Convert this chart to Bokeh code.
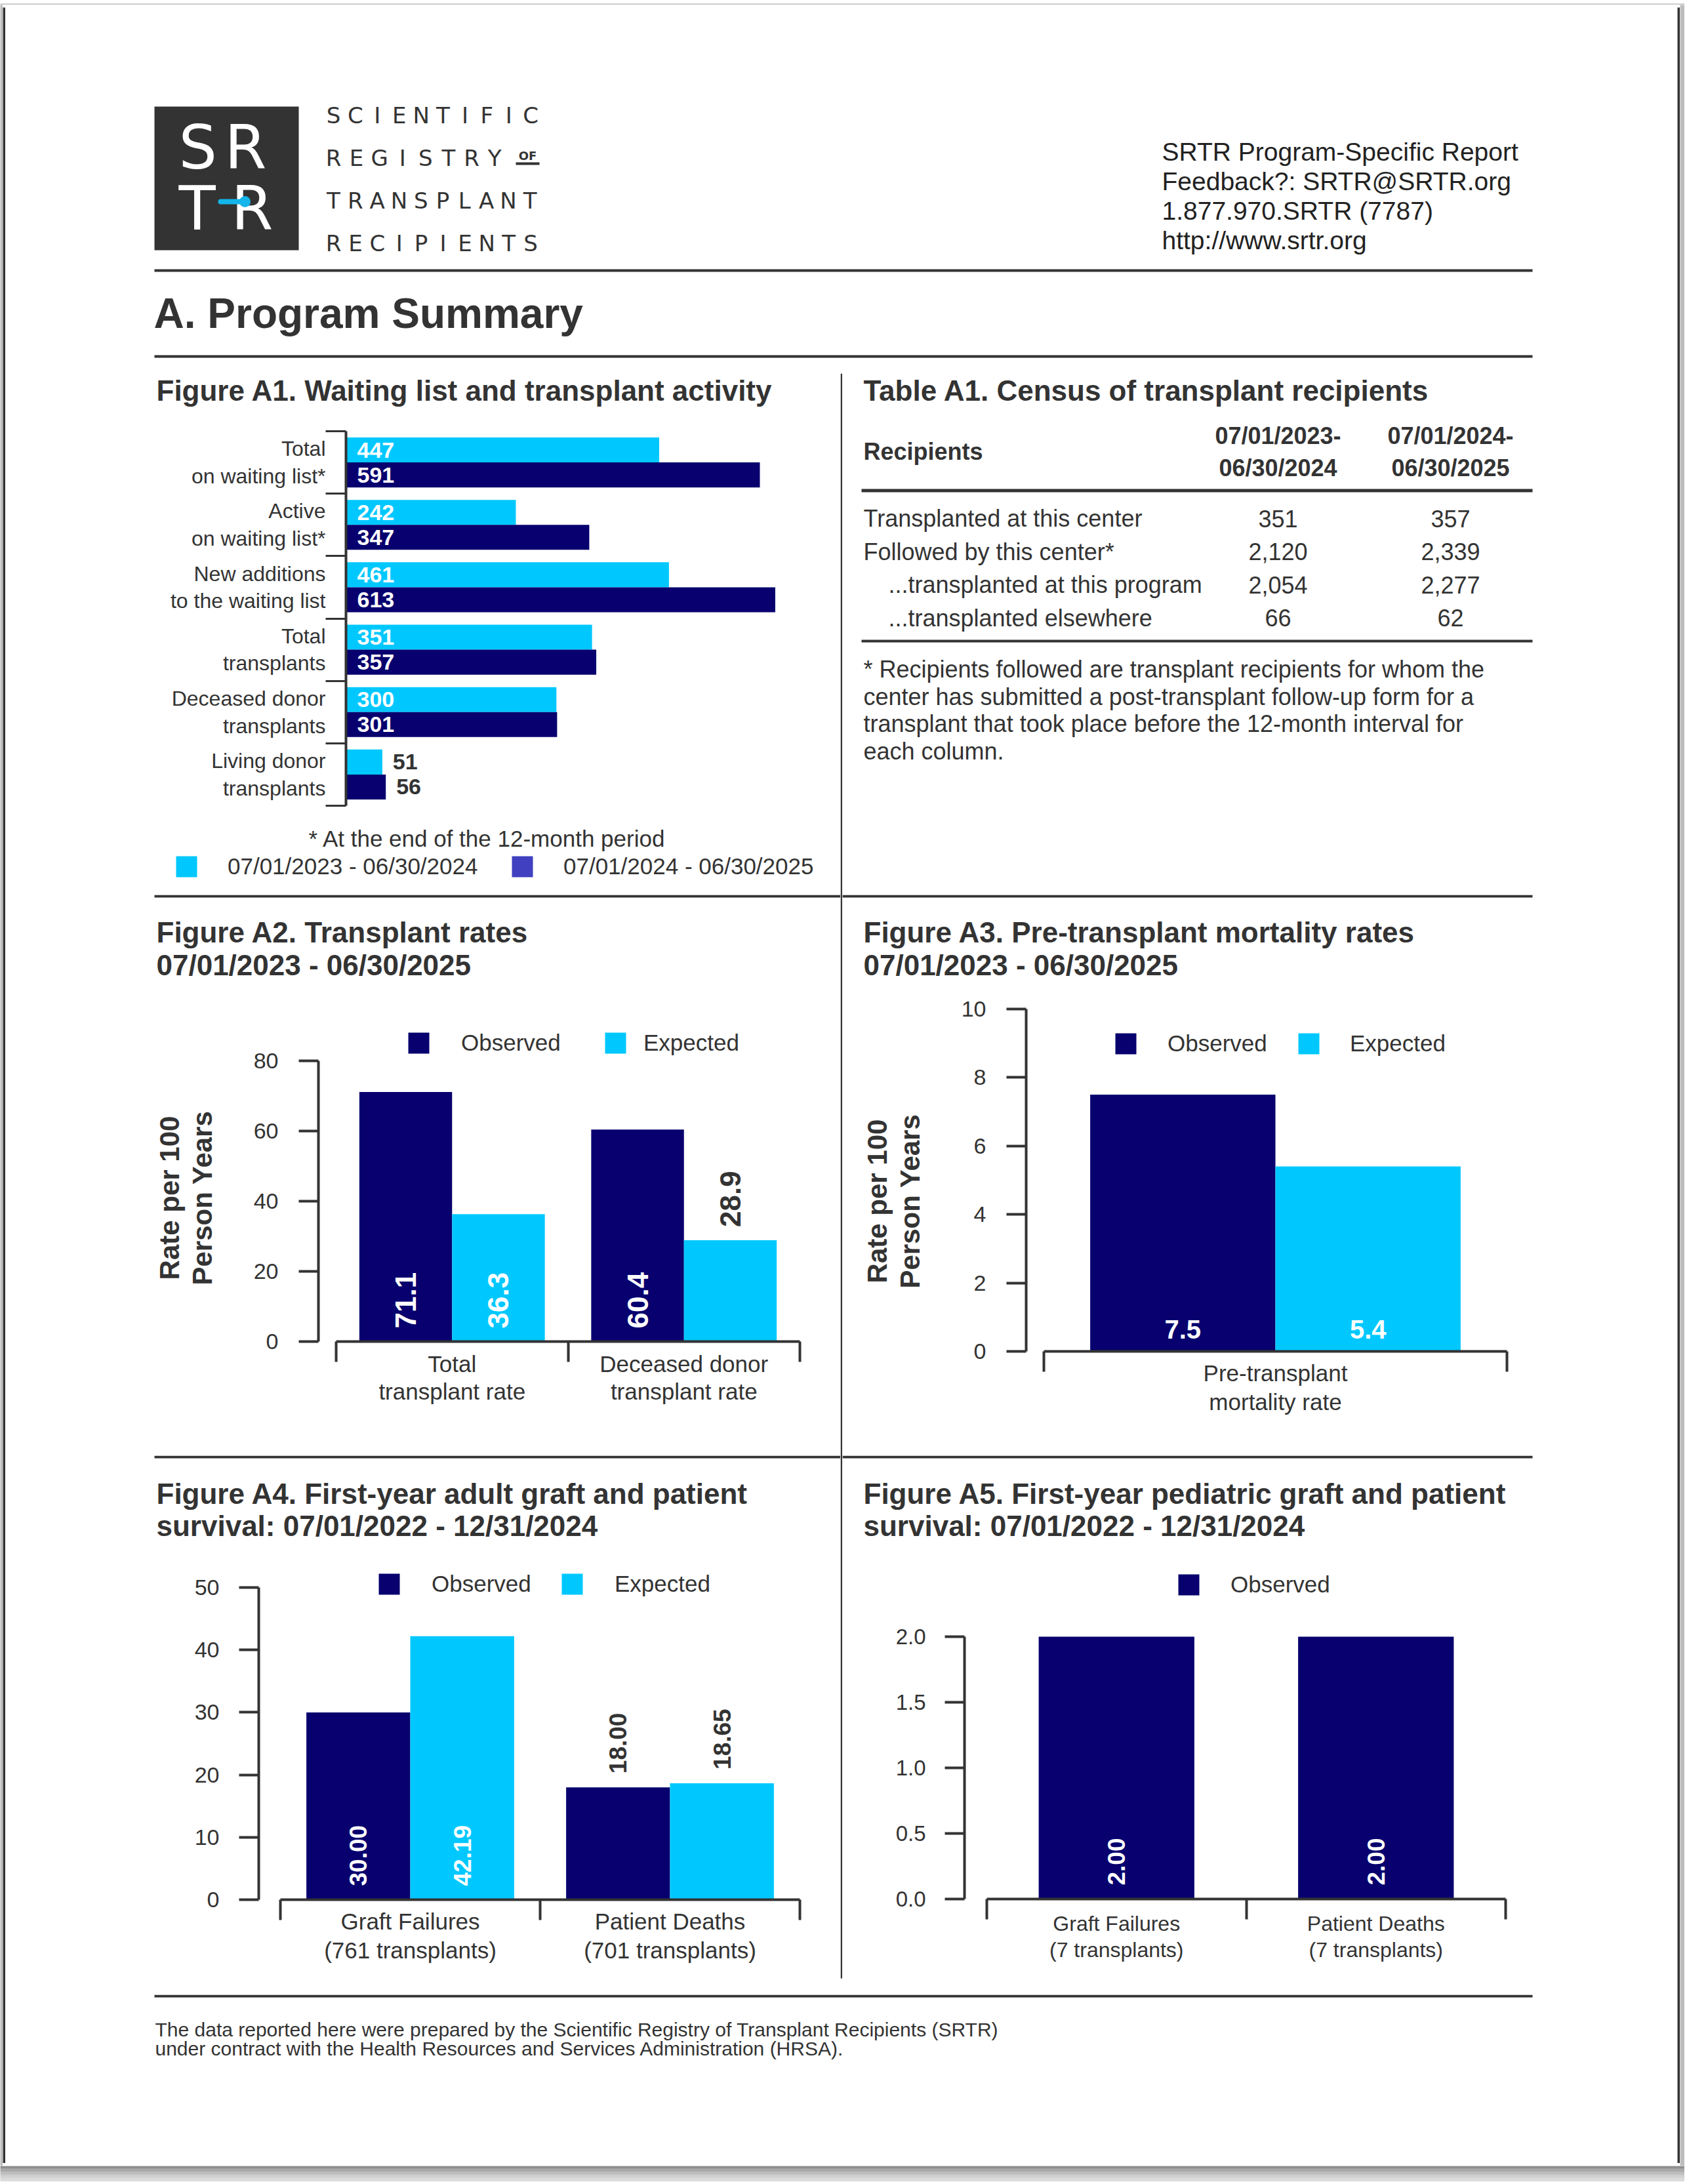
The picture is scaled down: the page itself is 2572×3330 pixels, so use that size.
import math
from bokeh.plotting import figure
from bokeh.models import (Range1d, FixedTicker, Legend, LegendItem, ColumnDataSource,
                          PrintfTickFormatter)
from bokeh.layouts import column, row
from bokeh.embed import file_html
from bokeh.resources import INLINE
from bokeh.core.properties import value

FONT = "Liberation Sans"
LOGO_FONT = "DejaVu Sans"
DARK = "#333333"
NAVY = "#07006E"
CYAN = "#00C8FF"
LEGEND_BLUE = "#4040C0"
LOGO_BLUE = "#13B5EA"
GREY = "#bdbdbd"

# ---------------- data ----------------
a1_categories = ["Total\non waiting list*", "Active\non waiting list*",
                 "New additions\nto the waiting list", "Total\ntransplants",
                 "Deceased donor\ntransplants", "Living donor\ntransplants"]
a1_period1 = [447, 242, 461, 351, 300, 51]
a1_period2 = [591, 347, 613, 357, 301, 56]
a1_periods = ["07/01/2023 - 06/30/2024", "07/01/2024 - 06/30/2025"]

table_rows = ["Transplanted at this center", "Followed by this center*",
              "...transplanted at this program", "...transplanted elsewhere"]
table_indent = [False, False, True, True]
table_col1 = ["351", "2,120", "2,054", "66"]
table_col2 = ["357", "2,339", "2,277", "62"]
table_headers = [["07/01/2023-", "06/30/2024"], ["07/01/2024-", "06/30/2025"]]
table_note = ["* Recipients followed are transplant recipients for whom the",
              "center has submitted a post-transplant follow-up form for a",
              "transplant that took place before the 12-month interval for",
              "each column."]

series_names = ["Observed", "Expected"]

a2_groups = ["Total\ntransplant rate", "Deceased donor\ntransplant rate"]
a2_observed = [71.1, 60.4]
a2_expected = [36.3, 28.9]
a2_yticks = [0, 20, 40, 60, 80]

a3_groups = ["Pre-transplant\nmortality rate"]
a3_observed = [7.5]
a3_expected = [5.4]
a3_yticks = [0, 2, 4, 6, 8, 10]

a4_groups = ["Graft Failures\n(761 transplants)", "Patient Deaths\n(701 transplants)"]
a4_observed = [30.00, 18.00]
a4_expected = [42.19, 18.65]
a4_yticks = [0, 10, 20, 30, 40, 50]

a5_groups = ["Graft Failures\n(7 transplants)", "Patient Deaths\n(7 transplants)"]
a5_observed = [2.00, 2.00]
a5_yticks = [0, 0.5, 1.0, 1.5, 2.0]

header_lines = ["SRTR Program-Specific Report", "Feedback?: SRTR@SRTR.org",
                "1.877.970.SRTR (7787)", "http://www.srtr.org"]
logo_words = ["SCIENTIFIC", "REGISTRY", "TRANSPLANT", "RECIPIENTS"]
footer_lines = ["The data reported here were prepared by the Scientific Registry of Transplant Recipients (SRTR)",
                "under contract with the Health Resources and Services Administration (HRSA)."]


# ---------------- helpers ----------------
def canvas(x0, y0, x1, y1, bg="white"):
    p = figure(width=x1 - x0, height=y1 - y0,
               x_range=Range1d(x0, x1), y_range=Range1d(y1, y0),
               output_backend="svg", toolbar_location=None, min_border=0,
               x_axis_location=None, y_axis_location=None)
    p.grid.visible = False
    p.outline_line_color = None
    p.background_fill_color = bg
    p.border_fill_color = bg
    return p


def put(p, x, y, s, size, bold=False, color=DARK, align="left",
        baseline="alphabetic", angle=0.0, font=FONT):
    if baseline == "alphabetic":
        y = y - 0.35 * size
        baseline = "middle"
    p.text(x=[x], y=[y], text=[s], angle=angle,
           text_font=value(font), text_font_size=value(f"{size}px"),
           text_font_style="bold" if bold else "normal",
           text_color=color, text_align=align, text_baseline=baseline)


def block(p, x0, x1, y0, y1, color=DARK):
    p.quad(left=[x0], right=[x1], top=[y0], bottom=[y1],
           fill_color=color, line_color=None)


def lin_range(va, pa, vb, pb, plo, phi):
    k = (pb - pa) / (vb - va)
    return Range1d(va + (plo - pa) / k, va + (phi - pa) / k)


def chart(fig_box, frame_box, xr, yr, x_axis=True):
    fx0, fy0, fx1, fy1 = fig_box
    l, t, r, b = frame_box
    p = figure(width=fx1 - fx0, height=fy1 - fy0, x_range=xr, y_range=yr,
               output_backend="svg", toolbar_location=None,
               min_border_left=l - fx0, min_border_right=fx1 - r,
               min_border_top=t - fy0, min_border_bottom=fy1 - b,
               x_axis_location="below" if x_axis else None)
    p.grid.visible = False
    p.outline_line_color = None
    p.background_fill_color = "white"
    p.border_fill_color = "white"
    return p


def style_value_axis(ax, ticks, size, standoff, fmt=None):
    ax.ticker = FixedTicker(ticks=ticks)
    ax.bounds = (min(ticks), max(ticks))
    ax.axis_line_color = DARK
    ax.axis_line_width = 4
    ax.major_tick_line_color = DARK
    ax.major_tick_line_width = 4
    ax.major_tick_in = 0
    ax.major_tick_out = 30
    ax.minor_tick_line_color = None
    ax.minor_tick_in = 0
    ax.minor_tick_out = 0
    ax.major_label_standoff = standoff
    ax.major_label_text_font = FONT
    ax.major_label_text_font_size = f"{size}px"
    ax.major_label_text_color = DARK
    if fmt:
        ax.formatter = PrintfTickFormatter(format=fmt)


BRACKET = 31


def style_group_axis(ax, labels, size, gap, lh):
    n = len(labels)
    ax.ticker = FixedTicker(ticks=[i + 1 for i in range(n)],
                            minor_ticks=[i + 0.5 for i in range(n + 1)])
    ax.bounds = (0.5, n + 0.5)
    ax.axis_line_color = DARK
    ax.axis_line_width = 4
    ax.major_tick_line_color = None
    ax.major_tick_in = 0
    ax.major_tick_out = 0
    ax.minor_tick_line_color = DARK
    ax.minor_tick_line_width = 4
    ax.minor_tick_in = 0
    ax.minor_tick_out = BRACKET
    ax.major_label_overrides = {i + 1: lab for i, lab in enumerate(labels)}
    ax.major_label_standoff = gap - BRACKET
    ax.major_label_text_font = FONT
    ax.major_label_text_font_size = f"{size}px"
    ax.major_label_text_color = DARK
    ax.major_label_text_line_height = lh


def group_bars(p, series, colors, width, offsets, fmt, size, ymax_axis, lift,
               rotated=True):
    rends = []
    for vals, col, off in zip(series, colors, offsets):
        xs = [i + 1 + off for i in range(len(vals))]
        src = ColumnDataSource(dict(x=xs, top=vals))
        r = p.vbar(x="x", top="top", bottom=0, width=width, source=src,
                   fill_color=col, line_color=None)
        rends.append(r)
        if rotated:
            inside = [v >= 0.4 * ymax_axis for v in vals]
            lab = ColumnDataSource(dict(
                x=xs, y=[0 if ins else v for ins, v in zip(inside, vals)],
                text=[fmt % v for v in vals],
                color=["white" if ins else DARK for ins in inside]))
            p.text(x="x", y="y", text="text", source=lab, angle=math.pi / 2,
                   text_align="left", text_baseline="middle", y_offset=-lift,
                   text_color="color", text_font=value(FONT),
                   text_font_size=value(f"{size}px"), text_font_style="bold")
        else:
            lab = ColumnDataSource(dict(x=xs, y=[0] * len(vals),
                                        text=[fmt % v for v in vals]))
            p.text(x="x", y="y", text="text", source=lab,
                   text_align="center", text_baseline="middle", y_offset=-lift,
                   text_color="white", text_font=value(FONT),
                   text_font_size=value(f"{size}px"), text_font_style="bold")
    return rends


def square_legend(p, renderer, label, sq_x, sq_y, text_x, frame_left, frame_bottom, size):
    leg = Legend(items=[LegendItem(label=label, renderers=[renderer])],
                 location=(sq_x - 4 - frame_left, frame_bottom - (sq_y + 36)),
                 glyph_width=40, glyph_height=40, label_height=40, label_width=10,
                 label_standoff=text_x - (sq_x - 4 + 40),
                 padding=0, margin=0, spacing=0,
                 border_line_color=None, background_fill_alpha=0,
                 label_text_font=FONT, label_text_font_size=f"{size}px",
                 label_text_color=DARK)
    p.add_layout(leg)


def box(p):
    return column(p)


# ---------------- header ----------------
header = canvas(8, 11, 2557, 569)
block(header, 235, 455, 162, 381, "#333333")
put(header, 272, 257, "S", 92, color="white", font=LOGO_FONT)
put(header, 342, 257, "R", 92, color="white", font=LOGO_FONT)
put(header, 272, 350, "T", 92, color="white", font=LOGO_FONT)
put(header, 352, 350, "R", 92, color="white", font=LOGO_FONT)
header.line(x=[336, 370], y=[307, 307], line_color=LOGO_BLUE, line_width=8, line_cap="round")
header.scatter(x=[373], y=[307], size=17, marker="circle", fill_color=LOGO_BLUE, line_color=None)
word_base = [187, 252, 317, 382]
word_pitch = [33.4, 35.1, 33.3, 33.4]
for w, yb, pitch in zip(logo_words, word_base, word_pitch):
    for i, ch in enumerate(w):
        put(header, 508 + i * pitch, yb, ch, 34, color=DARK, align="center", font=LOGO_FONT)
put(header, 804, 243, "OF", 18, bold=True, color=DARK, align="center", font=LOGO_FONT)
block(header, 786, 822, 247, 251)
for i, s in enumerate(header_lines):
    put(header, 1771, 245 + 45 * i, s, 39, color="#222222")
block(header, 235, 2336, 410, 414)
put(header, 234, 500, "A. Program Summary", 64, bold=True)
block(header, 235, 2336, 541, 545)

# ---------------- A1 ----------------
a1_title = canvas(8, 569, 1281, 640)
put(a1_title, 238, 610, "Figure A1. Waiting list and transplant activity", 44, bold=True)

a1 = chart((8, 640, 1281, 1250), (527, 657, 1281, 1228),
           lin_range(0, 528, 591, 1158, 527, 1281), Range1d(6.5, 0.5), x_axis=False)
n1 = len(a1_categories)
for vals, col, off in ((a1_period1, CYAN, -0.2), (a1_period2, NAVY, 0.2)):
    ys = [i + 1 + off for i in range(n1)]
    a1.hbar(y=ys, left=0, right=vals, height=0.4, fill_color=col, line_color=None)
    inside = [v >= 100 for v in vals]
    src = ColumnDataSource(dict(x=[0 if ins else v for ins, v in zip(inside, vals)], y=ys,
                                text=[str(v) for v in vals],
                                color=["white" if ins else DARK for ins in inside]))
    a1.text(x="x", y="y", text="text", source=src, x_offset=16, text_align="left",
            text_baseline="middle", text_color="color", text_font=value(FONT),
            text_font_size=value("34px"), text_font_style="bold")
ya = a1.yaxis[0]
ya.ticker = FixedTicker(ticks=[i + 1 for i in range(n1)],
                        minor_ticks=[i + 0.5 for i in range(n1 + 1)])
ya.axis_line_color = DARK
ya.axis_line_width = 4
ya.major_tick_line_color = None
ya.major_tick_out = 0
ya.major_tick_in = 0
ya.minor_tick_line_color = DARK
ya.minor_tick_line_width = 3
ya.minor_tick_in = 0
ya.minor_tick_out = BRACKET
ya.major_label_overrides = {i + 1: lab for i, lab in enumerate(a1_categories)}
ya.major_label_standoff = 31 - BRACKET
ya.major_label_text_font = FONT
ya.major_label_text_font_size = "32px"
ya.major_label_text_color = DARK
ya.major_label_text_line_height = 1.16

a1_leg = canvas(8, 1250, 1281, 1364)
put(a1_leg, 470, 1290, "* At the end of the 12-month period", 35)
d1 = a1_leg.quad(left=[0], right=[0], top=[0], bottom=[0], fill_color=CYAN, line_color=None)
d2 = a1_leg.quad(left=[0], right=[0], top=[0], bottom=[0], fill_color=LEGEND_BLUE, line_color=None)
square_legend(a1_leg, d1, a1_periods[0], 268, 1305, 347, 8, 1364, 35)
square_legend(a1_leg, d2, a1_periods[1], 780, 1305, 859, 8, 1364, 35)

# ---------------- Table A1 ----------------
tbl = canvas(1284, 569, 2557, 1364)
put(tbl, 1316, 610, "Table A1. Census of transplant recipients", 44, bold=True)
put(tbl, 1316, 701, "Recipients", 36, bold=True)
col_x = [1948, 2211]
for cx, hdr in zip(col_x, table_headers):
    put(tbl, cx, 677, hdr[0], 36, bold=True, align="center")
    put(tbl, cx, 726, hdr[1], 36, bold=True, align="center")
block(tbl, 1313, 2336, 745, 750)
for i, (lab, ind, v1, v2) in enumerate(zip(table_rows, table_indent, table_col1, table_col2)):
    yb = 803 + 50.5 * i
    put(tbl, 1354 if ind else 1316, yb, lab, 36)
    put(tbl, col_x[0], yb, v1, 36, align="center")
    put(tbl, col_x[1], yb, v2, 36, align="center")
block(tbl, 1313, 2336, 975, 979)
for i, s in enumerate(table_note):
    put(tbl, 1316, 1033 + 41.5 * i, s, 36)

# ---------------- A2 ----------------
a2_title = canvas(8, 1364, 1281, 1525)
block(a2_title, 235, 1281, 1364, 1368)
put(a2_title, 238, 1436, "Figure A2. Transplant rates", 44, bold=True)
put(a2_title, 238, 1486, "07/01/2023 - 06/30/2025", 44, bold=True)
a2_ylab = canvas(8, 1525, 360, 2219)
put(a2_ylab, 258, 1826, "Rate per 100", 42, bold=True, align="center", baseline="middle", angle=math.pi / 2)
put(a2_ylab, 308, 1826, "Person Years", 42, bold=True, align="center", baseline="middle", angle=math.pi / 2)
a2 = chart((360, 1525, 1281, 2219), (485, 1560, 1230, 2045),
           lin_range(0.5, 512, 2.5, 1219, 485, 1230),
           lin_range(0, 2045, 80, 1617, 2045, 1560))
r2 = group_bars(a2, [a2_observed, a2_expected], [NAVY, CYAN], 0.4, [-0.2, 0.2],
                "%.1f", 44, max(a2_yticks), 20)
style_value_axis(a2.yaxis[0], a2_yticks, 34, 31)
style_group_axis(a2.xaxis[0], a2_groups, 35, 14, 1.1)
square_legend(a2, r2[0], series_names[0], 622, 1574, 703, 485, 2045, 35)
square_legend(a2, r2[1], series_names[1], 922, 1574, 981, 485, 2045, 35)

# ---------------- A3 ----------------
a3_title = canvas(1284, 1364, 2557, 1505)
block(a3_title, 1284, 2336, 1364, 1368)
put(a3_title, 1316, 1436, "Figure A3. Pre-transplant mortality rates", 44, bold=True)
put(a3_title, 1316, 1486, "07/01/2023 - 06/30/2025", 44, bold=True)
a3_ylab = canvas(1284, 1505, 1440, 2219)
put(a3_ylab, 1337, 1831, "Rate per 100", 42, bold=True, align="center", baseline="middle", angle=math.pi / 2)
put(a3_ylab, 1387, 1831, "Person Years", 42, bold=True, align="center", baseline="middle", angle=math.pi / 2)
a3 = chart((1440, 1505, 2557, 2219), (1564, 1525, 2310, 2060),
           lin_range(0.5, 1591, 1.5, 2297, 1564, 2310),
           lin_range(0, 2060, 10, 1538, 2060, 1525))
r3 = group_bars(a3, [a3_observed, a3_expected], [NAVY, CYAN], 0.4, [-0.2, 0.2],
                "%.1f", 40, max(a3_yticks), 34, rotated=False)
style_value_axis(a3.yaxis[0], a3_yticks, 34, 31)
style_group_axis(a3.xaxis[0], a3_groups, 35, 13, 1.15)
square_legend(a3, r3[0], series_names[0], 1700, 1575, 1780, 1564, 2060, 35)
square_legend(a3, r3[1], series_names[1], 1979, 1575, 2058, 1564, 2060, 35)

# ---------------- A4 ----------------
a4_title = canvas(8, 2219, 1281, 2390)
block(a4_title, 235, 1281, 2219, 2223)
put(a4_title, 238, 2292, "Figure A4. First-year adult graft and patient", 44, bold=True)
put(a4_title, 238, 2341, "survival: 07/01/2022 - 12/31/2024", 44, bold=True)
a4_ylab = canvas(8, 2390, 280, 3041)
a4 = chart((280, 2390, 1281, 3041), (394, 2390, 1230, 2896),
           lin_range(0.5, 427, 2.5, 1219, 394, 1230),
           lin_range(0, 2896, 50, 2420, 2896, 2390))
r4 = group_bars(a4, [a4_observed, a4_expected], [NAVY, CYAN], 0.4, [-0.2, 0.2],
                "%.2f", 37, max(a4_yticks), 21)
style_value_axis(a4.yaxis[0], a4_yticks, 34, 30)
style_group_axis(a4.xaxis[0], a4_groups, 35, 13, 1.15)
square_legend(a4, r4[0], series_names[0], 577, 2399, 658, 394, 2896, 35)
square_legend(a4, r4[1], series_names[1], 856, 2399, 937, 394, 2896, 35)

# ---------------- A5 ----------------
a5_title = canvas(1284, 2219, 2557, 2390)
block(a5_title, 1284, 2336, 2219, 2223)
put(a5_title, 1316, 2292, "Figure A5. First-year pediatric graft and patient", 44, bold=True)
put(a5_title, 1316, 2341, "survival: 07/01/2022 - 12/31/2024", 44, bold=True)
a5_ylab = canvas(1284, 2390, 1340, 3041)
a5 = chart((1340, 2390, 2557, 3041), (1470, 2390, 2306, 2895),
           lin_range(0.5, 1504, 2.5, 2295, 1470, 2306),
           lin_range(0, 2895, 2, 2495, 2895, 2390))
r5 = group_bars(a5, [a5_observed], [NAVY], 0.6, [0.0], "%.2f", 37, max(a5_yticks), 21)
style_value_axis(a5.yaxis[0], a5_yticks, 33, 29, fmt="%.1f")
style_group_axis(a5.xaxis[0], a5_groups, 32, 19, 1.13)
square_legend(a5, r5[0], series_names[0], 1796, 2400, 1876, 1470, 2895, 35)

# ---------------- divider & footer ----------------
divider = canvas(1281, 569, 1284, 3041)
block(divider, 1281, 1284, 569, 3016)

footer = canvas(8, 3041, 2557, 3298)
block(footer, 235, 2336, 3041, 3045)
put(footer, 236, 3104, footer_lines[0], 30)
put(footer, 236, 3133, footer_lines[1], 30)


def solid(w, h, color):
    return canvas(0, 0, w, h, color)


shadow = canvas(0, 0, 2568, 24, "#dcdcdc")
greys = ["#8a8a8a", "#999999", "#a6a6a6", "#b2b2b2", "#bdbdbd", "#c7c7c7", "#d0d0d0", "#d8d8d8"]
for i, g in enumerate(greys):
    block(shadow, 0, 2568, i * 2.5, i * 2.5 + 2.5, g)

left_col = column(box(a1_title), box(a1), box(a1_leg), box(a2_title),
                  row(box(a2_ylab), box(a2)),
                  box(a4_title), row(box(a4_ylab), box(a4)))
right_col = column(box(tbl), box(a3_title), row(box(a3_ylab), box(a3)),
                   box(a5_title), row(box(a5_ylab), box(a5)))
middle = row(left_col, box(divider), right_col)
content = column(box(header), middle, box(footer))
bordered = column(box(solid(2557, 4, DARK)),
                  row(box(solid(4, 3287, DARK)), content, box(solid(4, 3287, DARK))),
                  box(solid(2557, 4, DARK)))
page = column(box(solid(2568, 7, GREY)),
              row(box(solid(4, 3295, GREY)), bordered, box(solid(7, 3295, GREY))),
              box(shadow))

open("out.html", "w").write(file_html(page, INLINE))
